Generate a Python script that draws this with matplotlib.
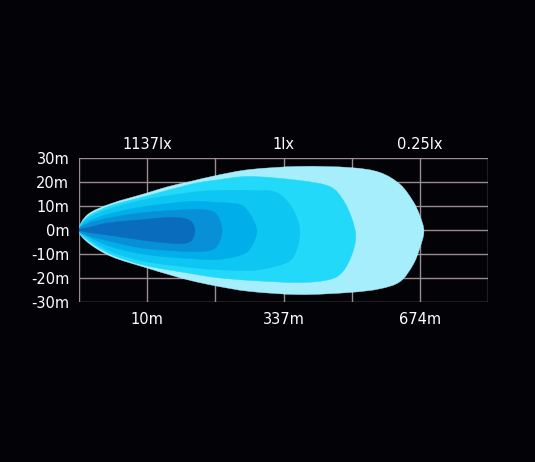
import matplotlib
matplotlib.use("Agg")
import matplotlib.pyplot as plt
from matplotlib.path import Path
from matplotlib.patches import PathPatch

plt.rcParams['font.family'] = ['DejaVu Sans']

# axis labels
y_ticks = [30, 20, 10, 0, -10, -20, -30]
y_labels = ['30m', '20m', '10m', '0m', '-10m', '-20m', '-30m']
dist_pos = [1, 3, 5]
dist_labels = ['10m', '337m', '674m']
lux_labels = ['1137lx', '1lx', '0.25lx']

# isolux contours (x in grid columns, y in metres), outer -> inner
c6_x = [0, 0.13, 0.47, 0.97, 1.31, 1.63, 2.01, 2.51, 3.24, 3.98, 4.41, 4.71, 4.90, 5.00, 5.06]
c6_top = [0, 6.5, 11.0, 15.2, 18.1, 20.2, 22.7, 25.2, 26.5, 26.0, 24.0, 19.0, 12.0, 6.0, -0.5]
c6_bot = [0, -5.2, -11.0, -15.6, -18.5, -21.0, -23.3, -25.6, -26.9, -26.0, -24.5, -21.5, -14.5, -7.5, -0.5]

c5_x = [0, 0.13, 0.47, 0.97, 1.63, 2.01, 2.51, 3.24, 3.68, 3.87, 4.00, 4.06]
c5_top = [0, 5.6, 10.2, 14.0, 19.0, 20.8, 22.3, 20.6, 18.1, 12.7, 5.0, -2.7]
c5_bot = [0, -4.4, -10.2, -14.8, -18.1, -19.8, -21.0, -21.9, -20.6, -17.3, -10.5, -2.7]

c4_x = [0, 0.13, 0.47, 0.97, 1.63, 2.01, 2.51, 2.90, 3.14, 3.24]
c4_top = [0, 4.8, 9.0, 12.7, 15.6, 16.5, 16.5, 15.6, 8.5, -1.0]
c4_bot = [0, -3.5, -9.0, -13.1, -15.6, -16.5, -16.9, -15.0, -11.5, -1.0]

c3_x = [0, 0.13, 0.47, 0.97, 1.63, 2.01, 2.36, 2.51, 2.61]
c3_top = [0, 3.5, 6.9, 9.8, 11.9, 11.5, 10.6, 6.5, -0.5]
c3_bot = [0, -2.7, -6.9, -10.2, -11.9, -12.3, -10.6, -7.7, -0.5]

c2_x = [0, 0.13, 0.47, 0.97, 1.63, 1.92, 2.04, 2.10]
c2_top = [0, 2.7, 5.2, 7.3, 8.5, 8.1, 5.6, -0.2]
c2_bot = [0, -2.3, -4.8, -7.7, -9.0, -8.5, -6.0, -0.2]

c1_x = [0, 0.13, 0.47, 0.97, 1.31, 1.55, 1.66, 1.70]
c1_top = [0, 1.0, 3.1, 4.4, 5.2, 4.8, 3.1, -0.5]
c1_bot = [0, -1.0, -2.3, -4.4, -5.4, -5.6, -4.0, -0.5]

contours = [
    (c6_x, c6_top, c6_bot, '#a6eefc'),
    (c5_x, c5_top, c5_bot, '#22d9f9'),
    (c4_x, c4_top, c4_bot, '#0ec6f2'),
    (c3_x, c3_top, c3_bot, '#00aeea'),
    (c2_x, c2_top, c2_bot, '#0890d6'),
    (c1_x, c1_top, c1_bot, '#0a6cbd'),
]


def smooth_path(xs, top, bot):
    # closed ring: top edge out, bottom edge back
    pts = list(zip(xs, top)) + list(zip(xs[-2:0:-1], bot[-2:0:-1]))
    n = len(pts)
    verts = [pts[0]]
    codes = [Path.MOVETO]
    for i in range(n):
        p0 = pts[i - 1]
        p1 = pts[i]
        p2 = pts[(i + 1) % n]
        p3 = pts[(i + 2) % n]
        c1 = (p1[0] + (p2[0] - p0[0]) / 6, p1[1] + (p2[1] - p0[1]) / 6)
        c2 = (p2[0] - (p3[0] - p1[0]) / 6, p2[1] - (p3[1] - p1[1]) / 6)
        verts += [c1, c2, p2]
        codes += [Path.CURVE4] * 3
    return Path(verts, codes)


bg = '#030206'
grid_col = '#9a8c92'

fig = plt.figure(figsize=(5.35, 4.62), dpi=100, facecolor=bg)
ax = fig.add_axes([79 / 535, 1 - 302 / 462, 409 / 535, 144 / 462])
ax.set_facecolor(bg)

for xs, top, bot, col in contours:
    ax.add_patch(PathPatch(smooth_path(xs, top, bot), facecolor=col,
                           edgecolor=col, lw=0.3, zorder=3))

ax.set_xlim(0, 6)
ax.set_ylim(-30, 30)

for x in range(7):
    ax.axvline(x, color=grid_col, lw=1.0, zorder=1)
for y in y_ticks:
    ax.axhline(y, color=grid_col, lw=1.0, zorder=1)
for s in ax.spines.values():
    s.set_visible(False)

ax.set_yticks(y_ticks, y_labels)
ax.set_xticks(dist_pos, dist_labels)
ax.tick_params(length=0, colors='white', labelsize=10.5)
ax.tick_params(axis='y', pad=7)
ax.tick_params(axis='x', pad=7)

top_ax = ax.secondary_xaxis('top')
top_ax.set_xticks(dist_pos, lux_labels)
top_ax.tick_params(length=0, colors='white', labelsize=10.5, pad=4)
for s in top_ax.spines.values():
    s.set_visible(False)

fig.savefig('out.png', dpi=100, facecolor=bg)
